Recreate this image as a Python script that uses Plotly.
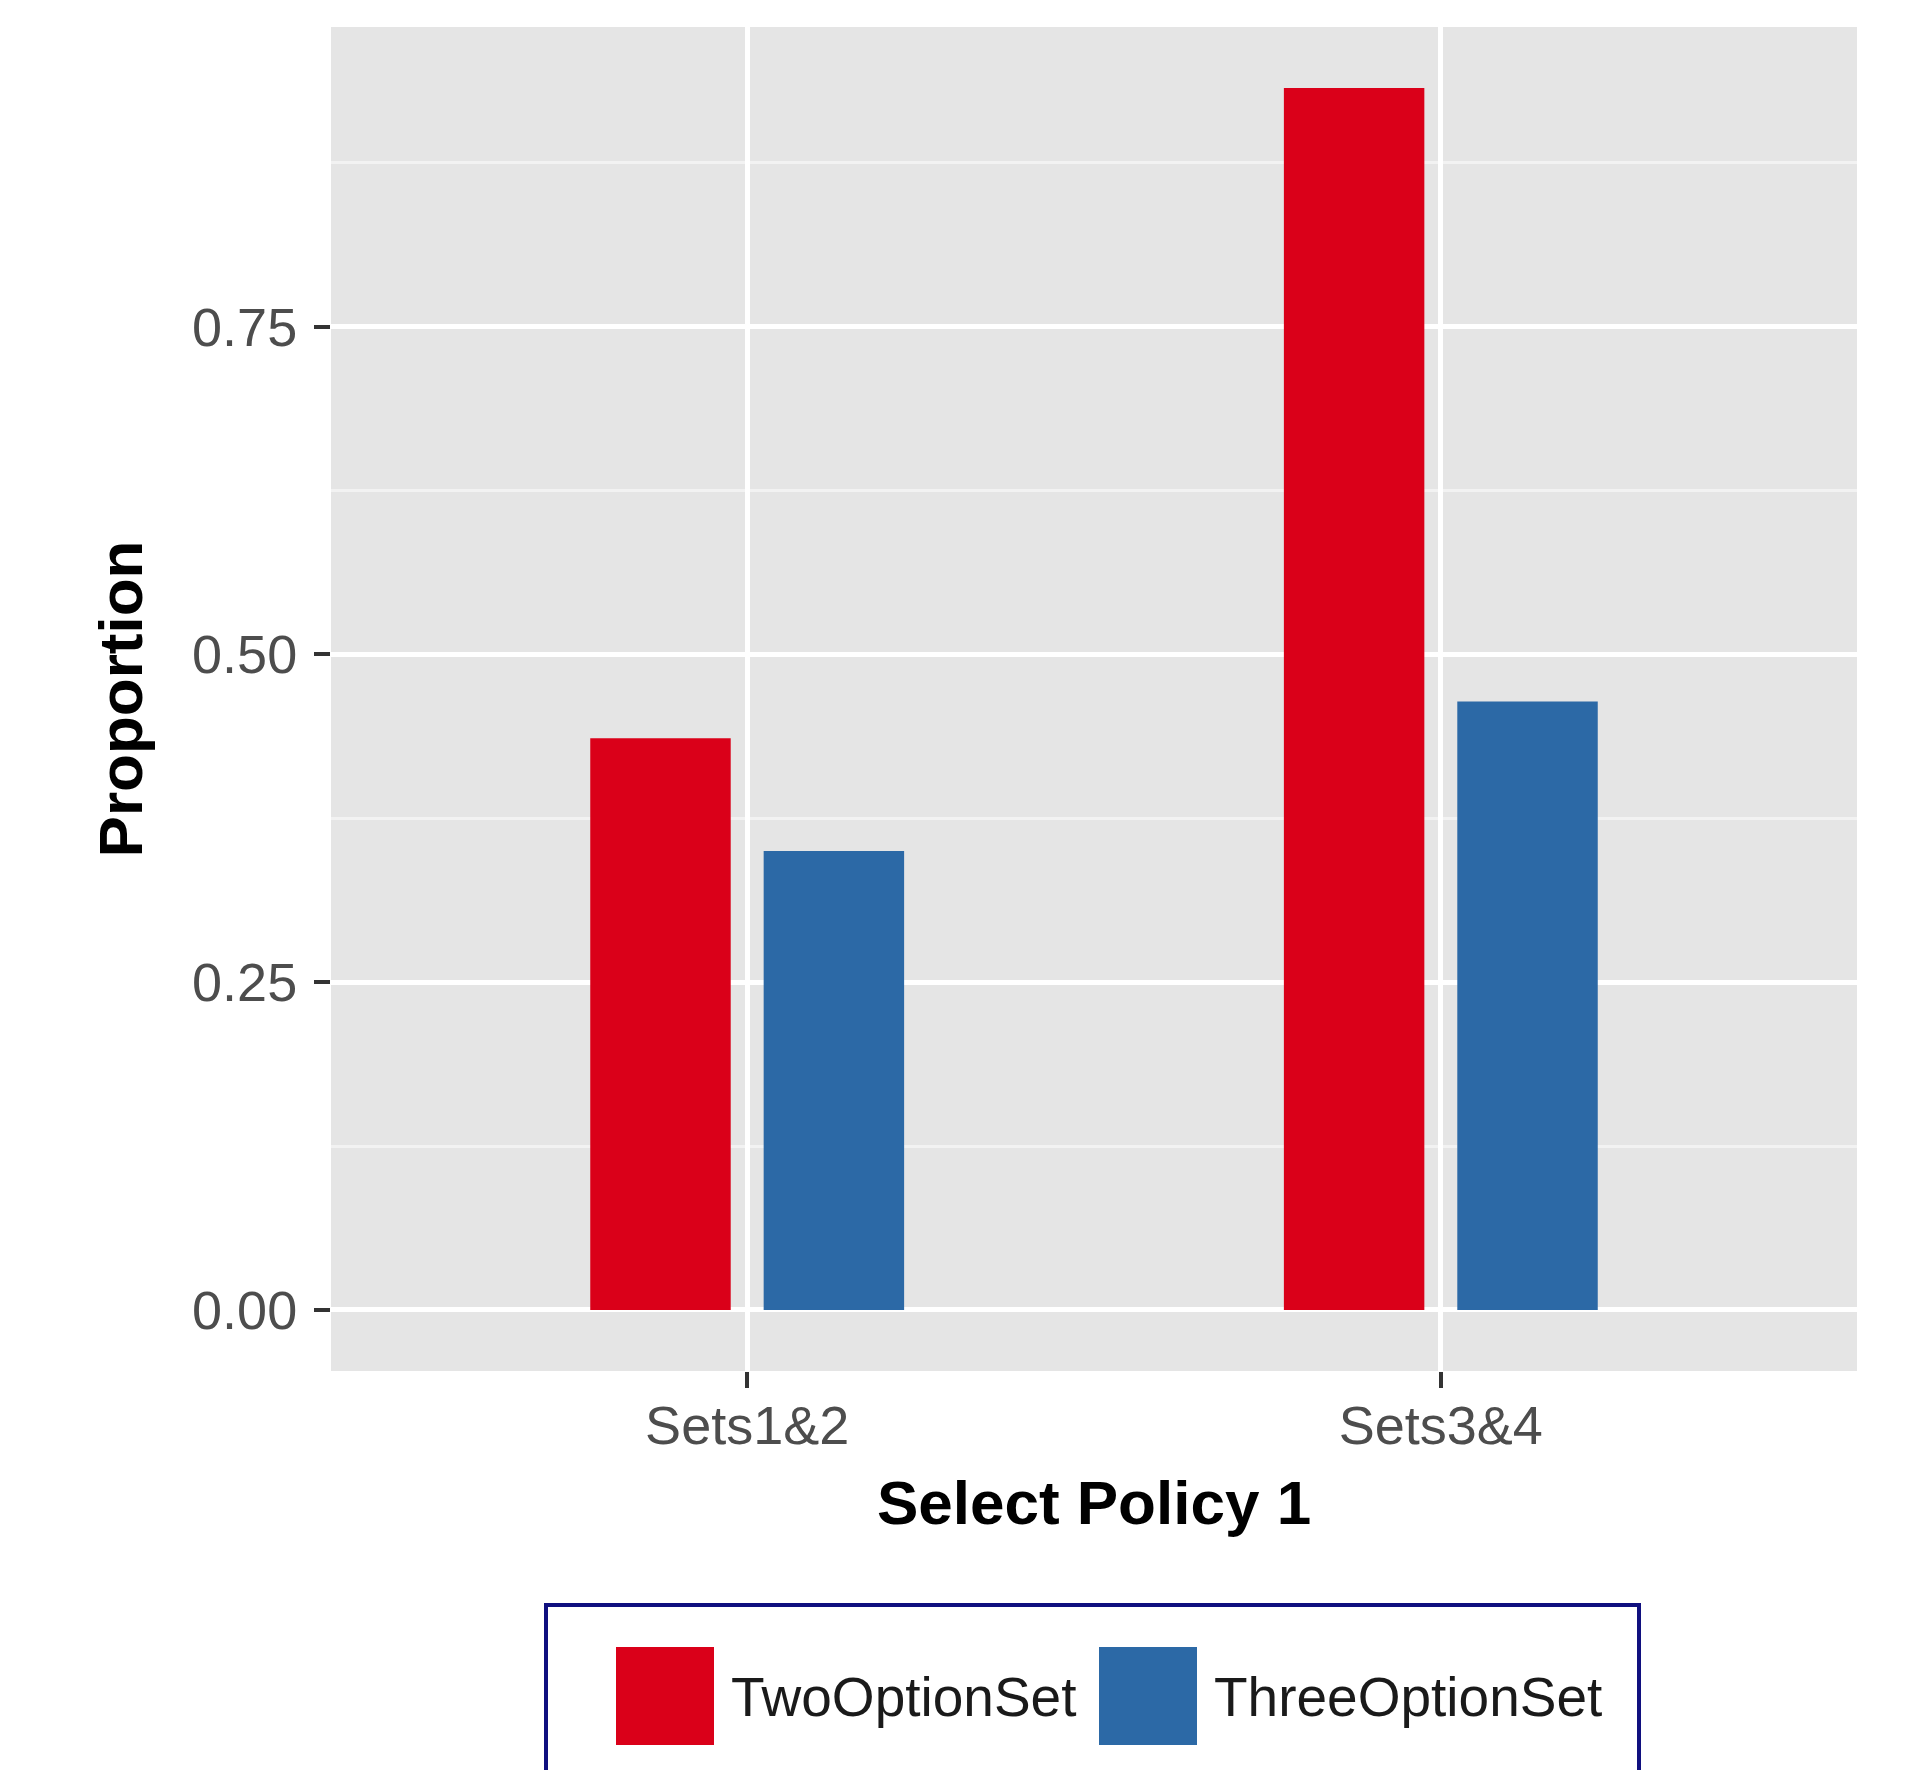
import plotly.graph_objects as go

# ---- data ----
categories = ["Sets1&2", "Sets3&4"]
series_names = ["TwoOptionSet", "ThreeOptionSet"]
two_option = [0.436, 0.932]
three_option = [0.350, 0.464]
y_tick_vals = [0.0, 0.25, 0.5, 0.75]
y_tick_text = ["0.00", "0.25", "0.50", "0.75"]
x_title = "Select Policy 1"
y_title = "Proportion"

# ---- styles ----
colors = ["#DA0019", "#2C69A6"]
OFF = 8  # page body margin
W, H = 1925 - OFF, 1770 - OFF
# plot area in page pixels: x 331..1857, y 27..1371
ML, MT = 331 - OFF, 27 - OFF
MR = W - (1857 - OFF)
MB = H - (1371 - OFF)
PW = W - ML - MR
PH = H - MT - MB


def px(x):
    return (x - OFF - ML) / PW


def py(y):
    return (H - MB - (y - OFF)) / PH


fig = go.Figure()
for name, vals, col in zip(series_names, [two_option, three_option], colors):
    fig.add_trace(go.Bar(x=categories, y=vals, name=name, marker_color=col,
                         marker_line_width=0, showlegend=False))

fig.update_layout(
    width=W, height=H, autosize=False,
    margin=dict(l=ML, r=MR, t=MT, b=MB, pad=0),
    paper_bgcolor="white", plot_bgcolor="#E5E5E5",
    barmode="group", bargap=0.5, bargroupgap=0.19,
    font=dict(family="Liberation Sans, Arial, sans-serif", color="#4D4D4D"),
)
fig.update_xaxes(
    type="category", range=[-0.6, 1.6],
    showgrid=True, gridcolor="white", gridwidth=5,
    ticks="outside", ticklen=16, tickwidth=4, tickcolor="#333333",
    tickfont=dict(size=54, color="#4D4D4D"), ticklabelstandoff=-9,
    zeroline=False, showline=False,
    title=dict(text=x_title, font=dict(size=62, color="black", weight="bold"), standoff=26),
)
fig.update_yaxes(
    range=[-0.0466, 0.9786],
    tickvals=y_tick_vals, ticktext=y_tick_text,
    showgrid=True, gridcolor="white", gridwidth=5,
    minor=dict(tickvals=[0.125, 0.375, 0.625, 0.875], showgrid=True,
               gridcolor="#F2F2F2", gridwidth=3, ticks=""),
    ticks="outside", ticklen=16, tickwidth=4, tickcolor="#333333",
    tickfont=dict(size=54, color="#4D4D4D"), ticklabelstandoff=6,
    zeroline=False, showline=False,
    title=dict(text=y_title, font=dict(size=62, color="black", weight="bold"), standoff=29),
)

# ---- custom legend (large square keys, boxed, cut by bottom edge) ----
shapes = [dict(type="rect", xref="paper", yref="paper",
               x0=px(546), x1=px(1639), y0=py(1800), y1=py(1605),
               line=dict(color="#10107F", width=4), fillcolor="white", layer="above")]
key_left = [616, 1099]
text_left = [729, 1212]
annotations = []
for name, col, kx, tx in zip(series_names, colors, key_left, text_left):
    shapes.append(dict(type="rect", xref="paper", yref="paper",
                       x0=px(kx), x1=px(kx + 98), y0=py(1745), y1=py(1647),
                       line=dict(width=0), fillcolor=col, layer="above"))
    annotations.append(dict(xref="paper", yref="paper", x=px(tx), y=py(1697),
                            xanchor="left", yanchor="middle", showarrow=False,
                            text=name, font=dict(size=55, color="#1A1A1A")))
fig.update_layout(shapes=shapes, annotations=annotations)

fig.write_html("out.html")
